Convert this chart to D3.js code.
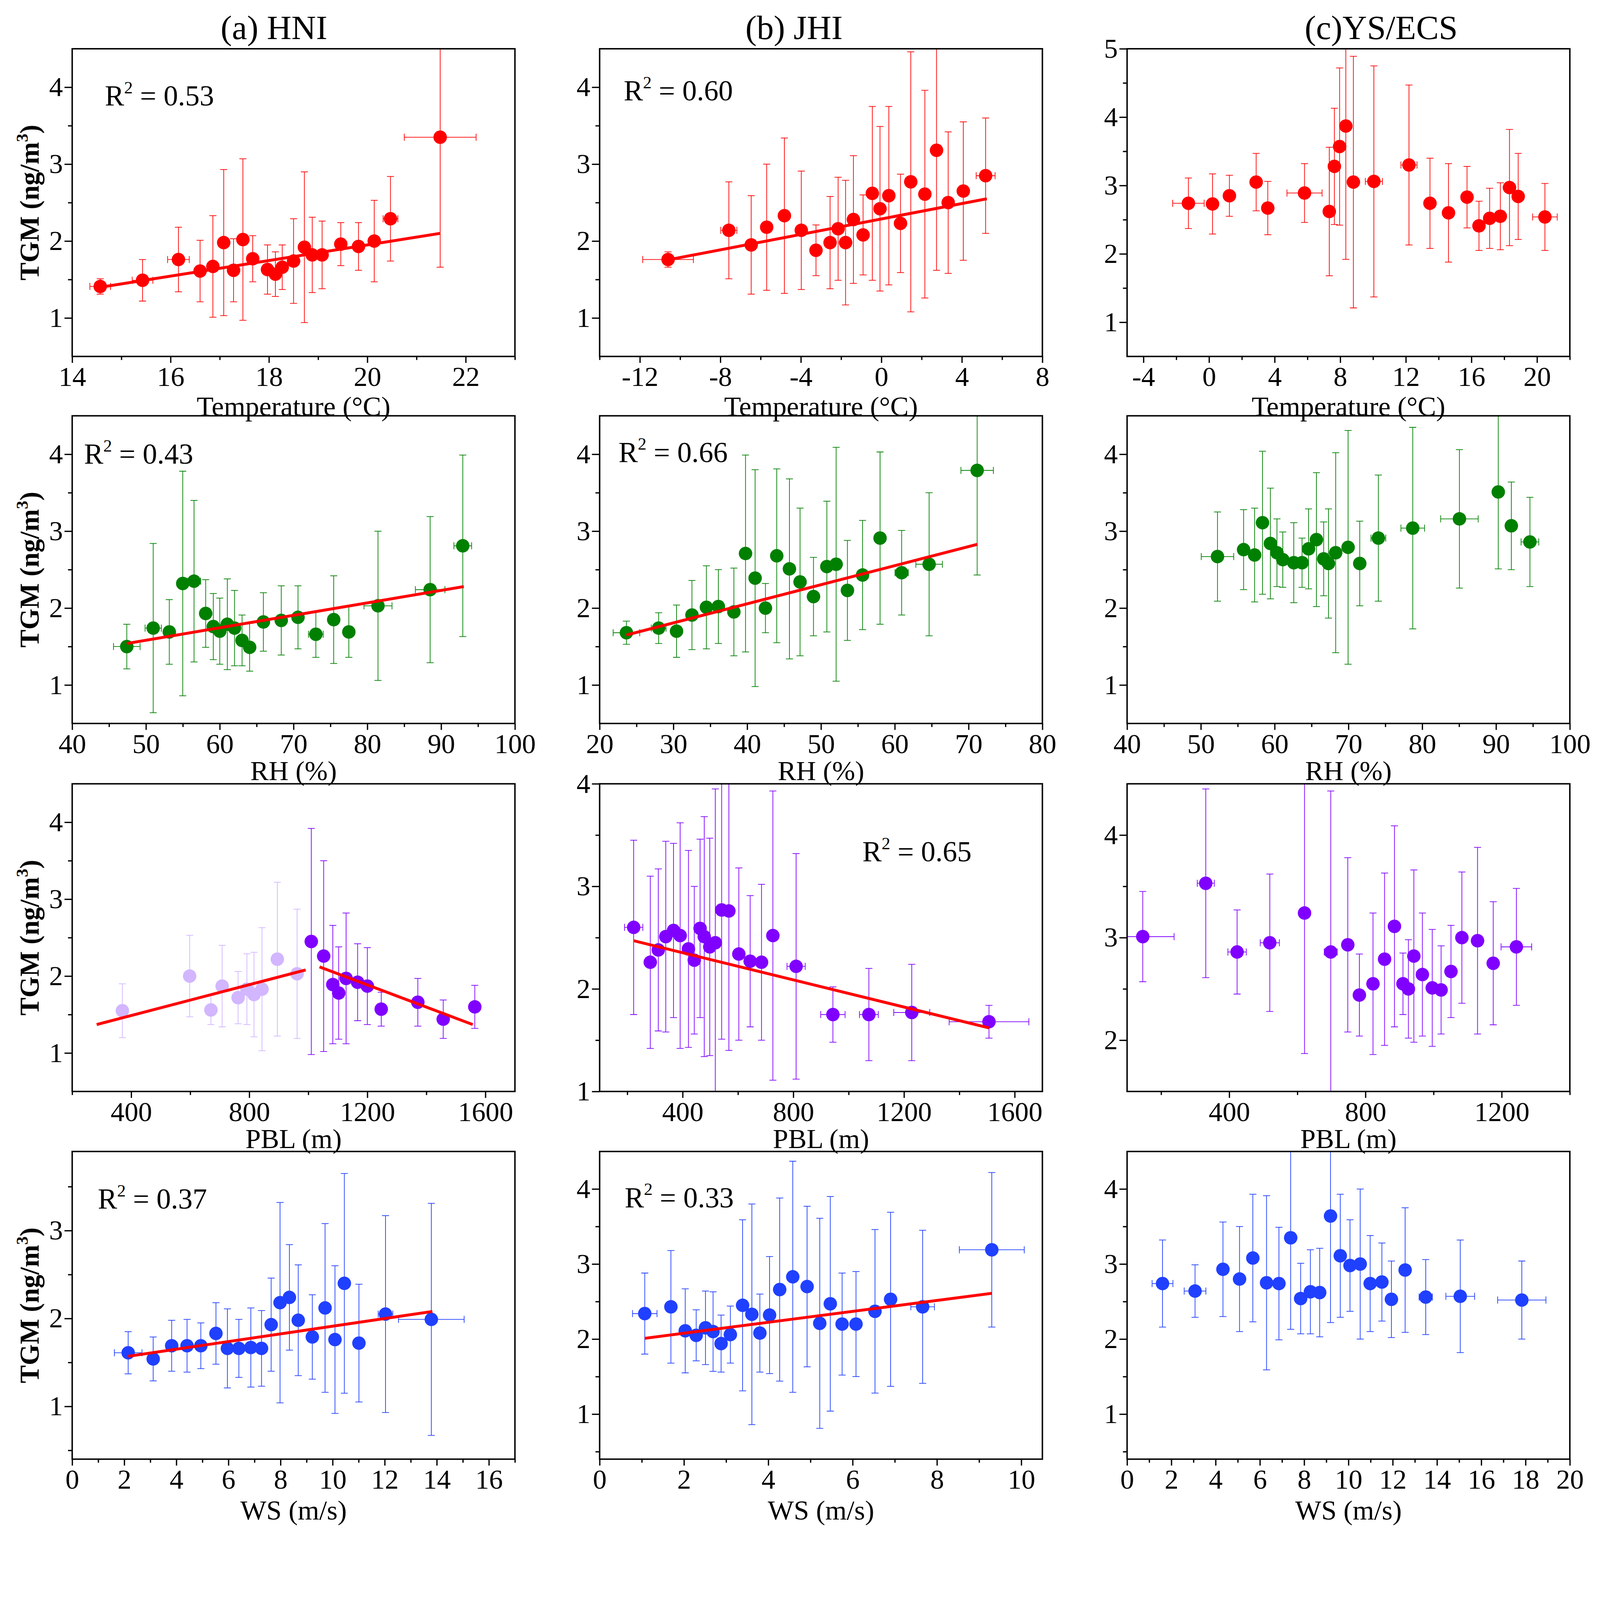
<!DOCTYPE html>
<html><head><meta charset="utf-8">
<script src="https://cdn.jsdelivr.net/npm/d3@7"></script>
<style>html,body{margin:0;padding:0;background:#fff;width:100%;height:100%;overflow:hidden}svg{display:block;width:100vw;height:100vh}</style>
</head><body><svg id="c"></svg>
<script>
// ---------------- DATA ([x, TGM, xErr, yErr]) ----------------
const colTitles = ["(a) HNI", "(b) JHI", "(c)YS/ECS"];
const xTitles = ["Temperature (\u00B0C)", "RH (%)", "PBL (m)", "WS (m/s)"];

const hniTemp = [[14.57,1.41,0.21,0.10],[15.43,1.49,0.21,0.27],[16.16,1.76,0.22,0.42],[16.60,1.61,0,0.40],[16.86,1.67,0,0.66],[17.08,1.98,0,0.95],[17.28,1.62,0,0.41],[17.47,2.02,0,1.05],[17.67,1.77,0,0.30],[17.97,1.63,0,0.32],[18.13,1.57,0,0.29],[18.27,1.66,0,0.29],[18.50,1.74,0,0.55],[18.72,1.92,0,0.98],[18.88,1.82,0,0.49],[19.08,1.82,0,0.44],[19.46,1.96,0,0.28],[19.82,1.93,0,0.31],[20.14,2.00,0,0.53],[20.47,2.29,0.15,0.55],[21.48,3.35,0.73,1.69]];
const jhiTemp = [[-10.60,1.76,1.26,0.10],[-7.58,2.14,0.40,0.63],[-6.47,1.95,0,0.64],[-5.70,2.18,0,0.82],[-4.82,2.33,0,1.01],[-3.98,2.14,0,0.77],[-3.25,1.88,0,0.33],[-2.55,1.98,0,0.60],[-2.15,2.16,0,0.67],[-1.78,1.98,0,0.81],[-1.39,2.28,0,0.83],[-0.91,2.08,0,0.52],[-0.45,2.62,0,1.13],[-0.07,2.42,0,1.07],[0.37,2.59,0,1.16],[0.95,2.23,0,0.64],[1.46,2.77,0,1.69],[2.16,2.61,0,1.35],[2.74,3.18,0,1.56],[3.32,2.50,0,0.92],[4.07,2.65,0,0.90],[5.18,2.85,0.47,0.75]];
const ysTemp = [[-1.26,2.74,0.96,0.37],[0.21,2.73,0,0.44],[1.24,2.85,0,0.30],[2.87,3.05,0,0.42],[3.58,2.67,0,0.39],[5.82,2.89,1.07,0.43],[7.33,2.62,0,0.94],[7.64,3.28,0,0.85],[7.96,3.57,0,1.15],[8.34,3.87,0,1.95],[8.80,3.05,0,1.84],[10.05,3.06,0.52,1.69],[12.19,3.30,0.49,1.17],[13.47,2.74,0,0.66],[14.60,2.60,0,0.72],[15.73,2.83,0,0.45],[16.46,2.41,0,0.36],[17.11,2.52,0,0.44],[17.76,2.55,0,0.49],[18.32,2.97,0,0.85],[18.85,2.84,0,0.63],[20.48,2.54,0.75,0.49]];
const hniRh = [[47.40,1.50,1.8,0.29],[50.98,1.74,1.1,1.10],[53.16,1.69,0,0.42],[54.98,2.32,0.75,1.46],[56.51,2.35,0.9,1.05],[58.09,1.93,0,0.44],[59.12,1.76,0,0.43],[60.00,1.70,0,0.43],[61.02,1.79,0,0.59],[62.00,1.74,0,0.49],[63.02,1.58,0,0.33],[64.05,1.49,0,0.31],[65.91,1.82,0,0.38],[68.33,1.84,0,0.45],[70.60,1.88,0,0.41],[73.02,1.66,1.0,0.30],[75.44,1.85,0,0.57],[77.49,1.69,0,0.33],[81.44,2.03,1.9,0.97],[88.51,2.24,2.0,0.95],[92.93,2.81,1.2,1.18]];
const jhiRh = [[23.63,1.68,1.8,0.15],[28.00,1.74,1.0,0.20],[30.42,1.70,0,0.34],[32.51,1.91,0,0.45],[34.47,2.01,0,0.54],[36.09,2.02,0,0.48],[38.19,1.95,0,0.57],[39.77,2.71,0,1.28],[41.07,2.39,0,1.41],[42.47,2.00,0,0.32],[44.00,2.68,0,1.13],[45.72,2.51,0,1.17],[47.16,2.34,0,0.96],[48.98,2.15,0,0.51],[50.79,2.54,0,0.85],[52.05,2.57,0,1.52],[53.58,2.23,0,0.65],[55.63,2.43,0,0.71],[58.00,2.91,0,1.12],[60.93,2.46,0.9,0.55],[64.65,2.57,1.8,0.93],[71.16,3.79,2.2,1.36]];
const ysRh = [[52.25,2.67,2.2,0.58],[55.79,2.76,0,0.52],[57.28,2.69,0,0.61],[58.35,3.11,0,0.93],[59.42,2.84,0,0.72],[60.31,2.72,0,0.44],[61.10,2.63,0,0.36],[62.59,2.59,0,0.52],[63.71,2.59,0,0.32],[64.59,2.77,0,0.52],[65.66,2.89,0,0.87],[66.64,2.64,0,0.48],[67.29,2.58,0,0.71],[68.27,2.72,0,1.30],[69.95,2.79,0,1.52],[71.53,2.58,0,0.55],[74.05,2.91,1.0,0.82],[78.71,3.04,1.6,1.31],[85.04,3.16,2.54,0.90],[90.30,3.51,0,1.00],[92.07,3.07,0,0.57],[94.59,2.86,1.2,0.58]];
const hniPblLow = [[370,1.55,0,0.35],[598,2.00,0,0.53],[670,1.56,0,0.19],[708,1.87,0,0.53],[762,1.72,0,0.34],[792,1.83,0,0.46],[816,1.76,0,0.55],[843,1.83,0,0.80],[895,2.22,0,1.00],[962,2.03,0,0.84]];
const hniPblHigh = [[1010,2.45,0,1.47],[1052,2.26,0,1.24],[1083,1.89,0,0.77],[1103,1.78,0,0.60],[1128,1.97,0,0.85],[1167,1.92,0,0.50],[1200,1.87,0,0.50],[1247,1.57,0,0.22],[1371,1.66,0,0.31],[1457,1.44,0,0.25],[1564,1.60,0,0.28]];
const jhiPbl = [[223,2.60,33,0.85],[283,2.26,0,0.84],[312,2.38,0,0.79],[339,2.51,0,0.93],[367,2.57,0,0.85],[391,2.52,0,1.10],[421,2.39,0,0.96],[442,2.28,0,0.72],[463,2.59,0,0.87],[478,2.51,0,1.17],[498,2.41,0,1.06],[518,2.45,0,1.50],[541,2.77,0,1.26],[567,2.76,0,1.36],[603,2.34,0,0.84],[644,2.27,0,0.64],[685,2.26,0,0.76],[726,2.52,0,1.41],[810,2.22,33,1.10],[943,1.75,44,0.27],[1073,1.75,34,0.45],[1228,1.77,65,0.47],[1507,1.68,144,0.16]];
const ysPbl = [[146,3.01,92,0.44],[331,3.53,25,0.92],[423,2.86,27,0.41],[519,2.95,28,0.67],[621,3.24,12,1.37],[698,2.86,19,1.57],[748,2.93,0,0.85],[782,2.44,0,0.40],[822,2.55,0,0.69],[856,2.79,0,0.84],[885,3.11,0,0.98],[910,2.55,0,0.30],[926,2.50,0,0.48],[942,2.82,0,0.84],[967,2.64,0,0.60],[996,2.51,0,0.57],[1022,2.49,0,0.43],[1051,2.67,0,0.45],[1083,3.00,0,0.64],[1129,2.97,0,0.91],[1175,2.75,0,0.60],[1243,2.91,45,0.57]];
const hniWs = [[2.15,1.61,0.53,0.24],[3.11,1.54,0,0.25],[3.82,1.69,0,0.29],[4.41,1.69,0,0.30],[4.94,1.69,0,0.26],[5.52,1.83,0,0.35],[5.96,1.66,0,0.45],[6.40,1.66,0,0.33],[6.86,1.67,0,0.45],[7.27,1.66,0,0.43],[7.64,1.93,0,0.53],[7.98,2.18,0,1.14],[8.34,2.24,0,0.60],[8.68,1.98,0,0.63],[9.22,1.79,0,0.48],[9.71,2.12,0,0.96],[10.09,1.76,0,0.84],[10.45,2.40,0,1.25],[11.01,1.72,0,0.67],[12.03,2.05,0.28,1.12],[13.79,1.99,1.26,1.32]];
const jhiWs = [[1.07,2.34,0.29,0.54],[1.69,2.43,0,0.75],[2.03,2.11,0,0.56],[2.29,2.05,0,0.34],[2.51,2.15,0,0.49],[2.69,2.10,0,0.53],[2.88,1.94,0,0.38],[3.10,2.06,0,0.38],[3.39,2.45,0,1.14],[3.61,2.33,0,1.47],[3.80,2.08,0,0.52],[4.03,2.32,0,0.78],[4.27,2.66,0,1.22],[4.58,2.83,0,1.54],[4.92,2.70,0,1.07],[5.22,2.21,0,1.40],[5.47,2.47,0,1.43],[5.75,2.20,0,0.68],[6.08,2.20,0,0.70],[6.53,2.37,0,1.09],[6.90,2.53,0,1.16],[7.66,2.43,0.28,1.02],[9.30,3.19,0.77,1.03]];
const ysWs = [[1.60,2.74,0.47,0.58],[3.07,2.64,0.49,0.35],[4.33,2.93,0.2,0.63],[5.08,2.80,0,0.70],[5.68,3.08,0,0.85],[6.30,2.75,0,1.16],[6.86,2.74,0,0.75],[7.39,3.35,0,1.22],[7.84,2.54,0,0.47],[8.28,2.63,0,0.56],[8.70,2.62,0,0.59],[9.19,3.64,0,1.42],[9.63,3.11,0,0.82],[10.07,2.98,0,0.61],[10.53,3.00,0,1.00],[10.98,2.74,0,0.64],[11.51,2.76,0,0.52],[11.94,2.53,0,0.51],[12.56,2.92,0,0.83],[13.49,2.56,0.3,0.50],[15.05,2.57,0.65,0.75],[17.83,2.52,1.09,0.52]];

// fitted lines (end points)
const hniTempFit = [[14.57,1.40],[21.48,2.10]];
const jhiTempFit = [[-10.52,1.76],[5.24,2.55]];
const hniRhFit = [[47.4,1.54],[93.07,2.28]];
const jhiRhFit = [[23.63,1.65],[71.2,2.83]];
const hniPblFitLow = [[283,1.37],[991,2.08]];
const hniPblFitHigh = [[1038,2.12],[1557,1.37]];
const jhiPblFit = [[223,2.47],[1507,1.62]];
const hniWsFit = [[2.15,1.57],[13.83,2.08]];
const jhiWsFit = [[1.07,2.01],[9.30,2.61]];

// axis ticks
const tempXTicksA = [14,16,18,20,22], tempXMinorA = [15,17,19,21,23];
const tempXTicksB = [-12,-8,-4,0,4,8], tempXMinorB = [-14,-10,-6,-2,2,6];
const tempXTicksC = [-4,0,4,8,12,16,20], tempXMinorC = [-2,2,6,10,14,18,22];
const rhXTicksAC = [40,50,60,70,80,90,100], rhXMinorAC = [45,55,65,75,85,95];
const rhXTicksB = [20,30,40,50,60,70,80], rhXMinorB = [25,35,45,55,65,75];
const pblXTicksAB = [400,800,1200,1600], pblXTicksC = [400,800,1200], pblXMinor = [200,600,1000,1400];
const wsXTicksA = [0,2,4,6,8,10,12,14,16], wsXMinorA = [1,3,5,7,9,11,13,15,17];
const wsXTicksB = [0,2,4,6,8,10], wsXMinorB = [1,3,5,7,9];
const wsXTicksC = [0,2,4,6,8,10,12,14,16,18,20], wsXMinorC = [1,3,5,7,9,11,13,15,17,19];
const yTicks14 = [1,2,3,4], yMinor14 = [1.5,2.5,3.5];
const yTicks15 = [1,2,3,4,5], yMinor15 = [1.5,2.5,3.5,4.5];
const yTicks24 = [2,3,4], yMinor24 = [2.5,3.5];
const yTicks13 = [1,2,3], yMinorWs = [0.5,1.5,2.5,3.5];

// ---------------- STYLE / LAYOUT ----------------
const RED="#FF0000", GREEN="#008000", PURPLE="#8000FF", LILAC="#D2B6FF", BLUE="#2040FF";
const W=4987, H=4785;
const colX=[225,1869,3513], rowY=[152,1296,2443,3589], PW=1380, PH=959;
const FONT="'Liberation Serif','Times New Roman',serif";

const panels = [
 {r:0,c:0,series:[[hniTemp,RED]],xd:[14,23],xt:tempXTicksA,xm:tempXMinorA,yd:[0.5,4.5],yt:yTicks14,ym:yMinor14,fits:[hniTempFit],r2:"0.53",r2at:[102,177]},
 {r:0,c:1,series:[[jhiTemp,RED]],xd:[-14,8],xt:tempXTicksB,xm:tempXMinorB,yd:[0.5,4.5],yt:yTicks14,ym:yMinor14,fits:[jhiTempFit],r2:"0.60",r2at:[75,161]},
 {r:0,c:2,series:[[ysTemp,RED]],xd:[-5,22],xt:tempXTicksC,xm:tempXMinorC,yd:[0.5,5],yt:yTicks15,ym:yMinor15,fits:[]},
 {r:1,c:0,series:[[hniRh,GREEN]],xd:[40,100],xt:rhXTicksAC,xm:rhXMinorAC,yd:[0.5,4.5],yt:yTicks14,ym:yMinor14,fits:[hniRhFit],r2:"0.43",r2at:[37,149]},
 {r:1,c:1,series:[[jhiRh,GREEN]],xd:[20,80],xt:rhXTicksB,xm:rhXMinorB,yd:[0.5,4.5],yt:yTicks14,ym:yMinor14,fits:[jhiRhFit],r2:"0.66",r2at:[59,144]},
 {r:1,c:2,series:[[ysRh,GREEN]],xd:[40,100],xt:rhXTicksAC,xm:rhXMinorAC,yd:[0.5,4.5],yt:yTicks14,ym:yMinor14,fits:[]},
 {r:2,c:0,series:[[hniPblLow,LILAC],[hniPblHigh,PURPLE]],xd:[200,1700],xt:pblXTicksAB,xm:pblXMinor,yd:[0.5,4.5],yt:yTicks14,ym:yMinor14,fits:[hniPblFitLow,hniPblFitHigh]},
 {r:2,c:1,series:[[jhiPbl,PURPLE]],xd:[100,1700],xt:pblXTicksAB,xm:pblXMinor,yd:[1,4],yt:yTicks14,ym:yMinor14,fits:[jhiPblFit],r2:"0.65",r2at:[819,242]},
 {r:2,c:2,series:[[ysPbl,PURPLE]],xd:[100,1400],xt:pblXTicksC,xm:pblXMinor,yd:[1.5,4.5],yt:yTicks24,ym:yMinor24,fits:[]},
 {r:3,c:0,series:[[hniWs,BLUE]],xd:[0,17],xt:wsXTicksA,xm:wsXMinorA,yd:[0.4,3.9],yt:yTicks13,ym:yMinorWs,fits:[hniWsFit],r2:"0.37",r2at:[80,178]},
 {r:3,c:1,series:[[jhiWs,BLUE]],xd:[0,10.5],xt:wsXTicksB,xm:wsXMinorB,yd:[0.4,4.5],yt:yTicks14,ym:yMinorWs,fits:[jhiWsFit],r2:"0.33",r2at:[78,174]},
 {r:3,c:2,series:[[ysWs,BLUE]],xd:[0,20],xt:wsXTicksC,xm:wsXMinorC,yd:[0.4,4.5],yt:yTicks14,ym:yMinorWs,fits:[]}
];
const xTitleOff=[184,176,176,188];
const titleX=[854,2475,4305];
const numFmt = d => String(d);

const svg=d3.select("#c").attr("viewBox",`0 0 ${W} ${H}`).attr("preserveAspectRatio","xMinYMin meet");
svg.append("rect").attr("width",W).attr("height",H).attr("fill","#fff");
const defs=svg.append("defs");

colTitles.forEach((t,i)=>{
  svg.append("text").attr("x",titleX[i]).attr("y",122).attr("text-anchor","middle")
    .attr("font-family",FONT).attr("font-size",106).attr("fill","#000").text(t);
});

panels.forEach((p,pi)=>{
  const x0=colX[p.c], y0=rowY[p.r];
  const g=svg.append("g").attr("transform",`translate(${x0},${y0})`);
  const xs=d3.scaleLinear().domain(p.xd).range([0,PW]);
  const ys=d3.scaleLinear().domain(p.yd).range([PH,0]);
  const cid="clip"+pi;
  defs.append("clipPath").attr("id",cid).append("rect").attr("width",PW).attr("height",PH);
  const pg=g.append("g").attr("clip-path",`url(#${cid})`);

  p.series.forEach(([data,color])=>{
    const eb=pg.append("g").attr("stroke",color).attr("stroke-width",2.2).attr("fill","none");
    data.forEach(d=>{
      const cx=xs(d[0]), cy=ys(d[1]);
      if(d[3]>0){
        const t=ys(d[1]+d[3]), b=ys(d[1]-d[3]);
        eb.append("line").attr("x1",cx).attr("x2",cx).attr("y1",t).attr("y2",b);
        eb.append("line").attr("x1",cx-11).attr("x2",cx+11).attr("y1",t).attr("y2",t);
        eb.append("line").attr("x1",cx-11).attr("x2",cx+11).attr("y1",b).attr("y2",b);
      }
      if(d[2]>0){
        const l=xs(d[0]-d[2]), r=xs(d[0]+d[2]);
        eb.append("line").attr("x1",l).attr("x2",r).attr("y1",cy).attr("y2",cy);
        eb.append("line").attr("x1",l).attr("x2",l).attr("y1",cy-11).attr("y2",cy+11);
        eb.append("line").attr("x1",r).attr("x2",r).attr("y1",cy-11).attr("y2",cy+11);
      }
    });
    pg.append("g").selectAll("circle").data(data).join("circle")
      .attr("cx",d=>xs(d[0])).attr("cy",d=>ys(d[1])).attr("r",21).attr("fill",color);
  });

  const line=d3.line().x(d=>xs(d[0])).y(d=>ys(d[1]));
  p.fits.forEach(f=>{
    pg.append("path").attr("d",line(f)).attr("stroke",RED).attr("stroke-width",9).attr("fill","none");
  });

  const styleAxis=(sel)=>{
    sel.select(".domain").remove();
    sel.selectAll("line").attr("stroke","#000").attr("stroke-width",4);
    sel.selectAll("text").attr("font-family",FONT).attr("font-size",86).attr("fill","#000");
  };
  g.append("g").attr("transform",`translate(0,${PH})`)
    .call(d3.axisBottom(xs).tickValues(p.xt).tickSize(20).tickPadding(11).tickFormat(numFmt)).call(styleAxis);
  g.append("g").attr("transform",`translate(0,${PH})`)
    .call(d3.axisBottom(xs).tickValues(p.xm).tickSize(11).tickFormat("")).call(styleAxis);
  g.append("g").call(d3.axisLeft(ys).tickValues(p.yt).tickSize(24).tickPadding(5).tickFormat(numFmt)).call(styleAxis);
  g.append("g").call(d3.axisLeft(ys).tickValues(p.ym).tickSize(13).tickFormat("")).call(styleAxis);

  g.append("rect").attr("width",PW).attr("height",PH).attr("fill","none").attr("stroke","#000").attr("stroke-width",4.5);

  g.append("text").attr("x",PW/2).attr("y",PH+xTitleOff[p.r]).attr("text-anchor","middle")
    .attr("font-family",FONT).attr("font-size",86).attr("fill","#000").text(xTitles[p.r]);
  if(p.c===0){
    const yt=svg.append("text").attr("transform",`translate(121,${y0+PH/2}) rotate(-90)`)
      .attr("text-anchor","middle").attr("font-family",FONT).attr("font-size",84).attr("font-weight","bold").attr("fill","#000");
    yt.append("tspan").text("TGM (ng/m");
    yt.append("tspan").attr("font-size",52).attr("dy",-34).text("3");
    yt.append("tspan").attr("dy",34).text(")");
  }
  if(p.r2){
    const t=g.append("text").attr("x",p.r2at[0]).attr("y",p.r2at[1])
      .attr("font-family",FONT).attr("font-size",90).attr("fill","#000");
    t.append("tspan").text("R");
    t.append("tspan").attr("font-size",54).attr("dy",-38).text("2");
    t.append("tspan").attr("dy",38).text(" = "+p.r2);
  }
});
</script>
</body></html>
